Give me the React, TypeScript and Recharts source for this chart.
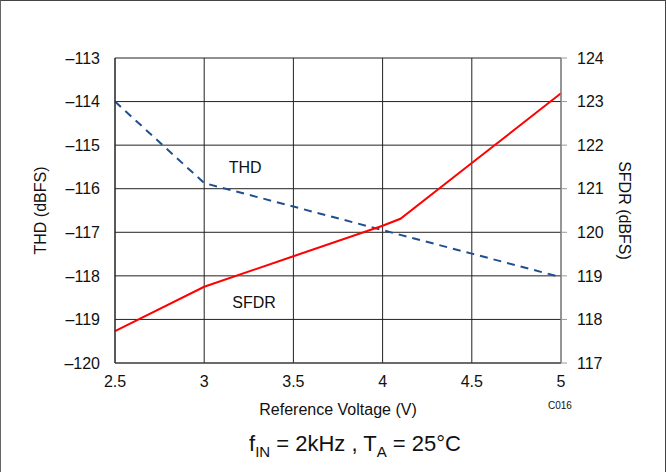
import React from 'react';
import { LineChart, Line, XAxis, YAxis, CartesianGrid, ReferenceDot, Label } from 'recharts';

const voltage = [2.5, 3, 3.5, 4, 4.1, 4.5, 5];
const thd = [-114.0, -115.87, -116.41, -116.95, -117.06, -117.49, -118.03];
const sfdr = [117.73, 118.75, 119.45, 120.15, 120.31, 121.59, 123.19];
const xTicks = [2.5, 3, 3.5, 4, 4.5, 5];
const thdTicks = [-120, -119, -118, -117, -116, -115, -114, -113];
const sfdrTicks = [117, 118, 119, 120, 121, 122, 123, 124];

const data = voltage.map((v, i) => ({ v, thd: thd[i], sfdr: sfdr[i] }));

const FONT = '"Liberation Sans", Arial, Helvetica, sans-serif';
const fmtNeg = (n: number) => (n < 0 ? '\u2013' + Math.abs(n) : String(n));

export default function App() {
  return (
    <div style={{ position: 'absolute', left: 0, top: 0, width: 666, height: 472, background: '#fff', fontFamily: FONT }}>
      <LineChart width={666} height={472} data={data} margin={{ top: 58, right: 45, bottom: 79, left: 55 }}>
        <CartesianGrid stroke="#222" strokeWidth={1} yAxisId="left" />
        <XAxis
          dataKey="v"
          type="number"
          domain={[2.5, 5]}
          ticks={xTicks}
          height={30}
          tickLine={false}
          axisLine={{ stroke: '#444' }}
          tick={{ fill: '#111', fontSize: 16, fontFamily: FONT }}
          tickMargin={7}
        />
        <YAxis
          yAxisId="left"
          domain={[-120, -113]}
          ticks={thdTicks}
          width={60}
          tickLine={false}
          axisLine={{ stroke: '#222' }}
          tickFormatter={fmtNeg}
          tick={{ fill: '#111', fontSize: 16, fontFamily: FONT }}
          tickMargin={9}
        >
          <Label value="THD (dBFS)" angle={-90} position="center" dx={-45} style={{ fill: '#111', fontSize: 16, fontFamily: FONT }} />
        </YAxis>
        <YAxis
          yAxisId="right"
          orientation="right"
          domain={[117, 124]}
          ticks={sfdrTicks}
          width={60}
          tickSize={6}
          tickLine={{ stroke: '#999' }}
          axisLine={{ stroke: '#999' }}
          tick={{ fill: '#111', fontSize: 16, fontFamily: FONT }}
          tickMargin={10}
        >
          <Label value="SFDR (dBFS)" angle={90} position="center" dx={34} style={{ fill: '#111', fontSize: 16, fontFamily: FONT }} />
        </YAxis>
        <Line
          yAxisId="left"
          dataKey="thd"
          stroke="#1f4f8f"
          strokeWidth={2}
          strokeDasharray="8 6"
          dot={false}
          isAnimationActive={false}
        />
        <Line
          yAxisId="right"
          dataKey="sfdr"
          stroke="#ff0000"
          strokeWidth={2}
          dot={false}
          isAnimationActive={false}
        />
        <ReferenceDot yAxisId="left" x={3.23} y={-115.52} r={0} fill="none" stroke="none"
          label={{ value: 'THD', position: 'center', fill: '#111', fontSize: 16, fontFamily: FONT }} />
        <ReferenceDot yAxisId="left" x={3.28} y={-118.6} r={0} fill="none" stroke="none"
          label={{ value: 'SFDR', position: 'center', fill: '#111', fontSize: 16, fontFamily: FONT }} />
      </LineChart>
      <div style={{ position: 'absolute', left: 0, top: 0, width: 664, height: 472, borderTop: '1px solid #444', borderLeft: '1px solid #666', borderRight: '1px solid #444', pointerEvents: 'none' }} />
      <div style={{ position: 'absolute', left: 0, top: 402, width: 666, textAlign: 'center', fontSize: 16, color: '#111', lineHeight: '16px' }}>
        <span style={{ position: 'relative', left: 5 }}>Reference Voltage (V)</span>
      </div>
      <div style={{ position: 'absolute', left: 548, top: 401, fontSize: 10, color: '#111', lineHeight: '10px' }}>C016</div>
      <div style={{ position: 'absolute', left: 0, top: 432, width: 666, textAlign: 'center', fontSize: 22, color: '#111', lineHeight: '24px', whiteSpace: 'pre' }}>
        <span style={{ position: 'relative', left: 22 }}>
          f<span style={{ fontSize: 15, position: 'relative', top: 6 }}>IN</span> = 2kHz , T<span style={{ fontSize: 15, position: 'relative', top: 6 }}>A</span> = 25°C
        </span>
      </div>
    </div>
  );
}
